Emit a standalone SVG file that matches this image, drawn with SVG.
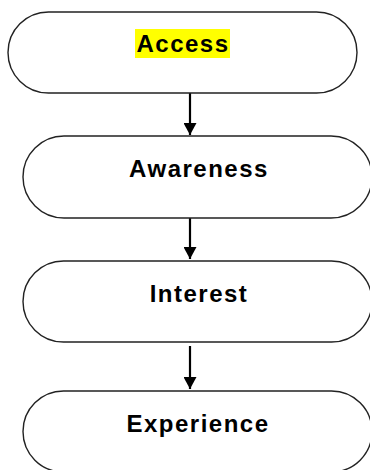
<svg xmlns="http://www.w3.org/2000/svg" width="370" height="470" viewBox="0 0 370 470">
<style>
.box{fill:#fff;stroke:#222;stroke-width:1.4}
.lbl{font-family:"Liberation Sans",Arial,sans-serif;font-weight:bold;font-size:24px;letter-spacing:1.5px;fill:#000;text-anchor:middle}
.conn{stroke:#000;stroke-width:2.2;fill:none}
</style>
<defs>
<marker id="ah" markerUnits="userSpaceOnUse" markerWidth="13" markerHeight="13" refX="12" refY="6.5" orient="auto">
<path d="M0,0 L12,6.5 L0,13 Z" fill="#000"/>
</marker>
</defs>
<rect width="370" height="470" fill="#fff"/>
<g id="connectors">
<line class="conn" x1="190" y1="93" x2="190" y2="135" marker-end="url(#ah)"/>
<line class="conn" x1="190" y1="218" x2="190" y2="259" marker-end="url(#ah)"/>
<line class="conn" x1="190" y1="346" x2="190" y2="389" marker-end="url(#ah)"/>
</g>
<g id="access">
<rect class="box" x="8" y="12" width="349" height="81" rx="40.5"/>
<rect x="135" y="29" width="95" height="29" fill="#ffff00"/>
<text class="lbl" x="183" y="52">Access</text>
</g>
<g id="awareness">
<rect class="box" x="23" y="136" width="349" height="82" rx="41"/>
<text class="lbl" x="199" y="177">Awareness</text>
</g>
<g id="interest">
<rect class="box" x="23" y="261" width="349" height="81" rx="40.5"/>
<text class="lbl" x="199" y="302">Interest</text>
</g>
<g id="experience">
<rect class="box" x="23" y="391" width="349" height="81" rx="40.5"/>
<text class="lbl" x="198" y="432">Experience</text>
</g>
</svg>
